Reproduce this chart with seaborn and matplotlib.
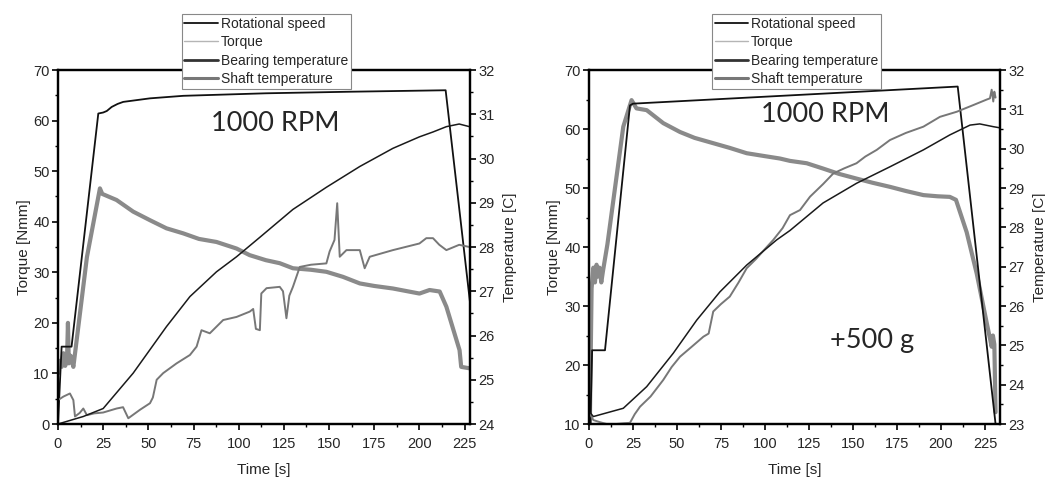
import pandas as pd
import matplotlib.pyplot as plt
import seaborn as sns
from matplotlib.lines import Line2D
from matplotlib.ticker import MultipleLocator

# ---- left panel: 1000 RPM ----
a_speed_t = [0, 2, 7.5, 22.3, 25, 27, 29.7, 33, 36.1, 50.9, 69.3, 115, 160, 214.5, 228]
a_speed = [0, 15.3, 15.3, 61.4, 61.6, 61.9, 62.7, 63.3, 63.7, 64.4, 64.9, 65.4, 65.7, 66.0, 24.0]

a_torque_t = [0, 1, 2, 3, 4, 5, 5.5, 6, 7, 8.5, 16, 23.2, 24.5, 32.4, 41.6, 50.9, 60, 69.3, 78,
              87.7, 98.8, 106, 115, 122.7, 130, 140, 148.5, 157.7, 167, 175, 185.3, 200, 205.6,
              211.2, 214.9, 222.2, 223.1, 228]
a_torque = [10, 12.5, 11.3, 14, 11.5, 13, 20, 12, 13.5, 11.3, 33, 46.6, 45.5, 44.3, 42.0, 40.3, 38.7,
            37.7, 36.6, 36.0, 34.7, 33.4, 32.4, 31.8, 30.8, 30.5, 30.1, 29.1, 27.8, 27.3, 26.8, 25.8,
            26.5, 26.2, 23.2, 14.6, 11.3, 11.0]

a_bear_t = [0, 14, 25, 41.6, 60, 73, 87.7, 98.8, 111.7, 130, 148.5, 167, 185.3, 200, 207.5, 214.9, 222, 227.7]
a_bear = [24.0, 24.17, 24.35, 25.15, 26.2, 26.88, 27.44, 27.78, 28.22, 28.85, 29.35, 29.82, 30.23, 30.49,
          30.6, 30.72, 30.78, 30.72]

a_shaft_t = [0, 3, 6.6, 8.5, 9.4, 12, 14, 16, 20, 25, 32.4, 36, 38.9, 45.3, 50.9, 52.5, 54.6, 58.2, 65.6,
             73, 76.7, 79.4, 84, 87.7, 91.4, 98.8, 106.1, 108, 109.5, 111.7, 112.5, 115.4, 122.7, 124.5,
             126.4, 128, 130, 133.8, 140, 148.5, 150.3, 153, 154.5, 155.9, 159.6, 167, 169.7, 172.5,
             185.3, 200, 203.8, 207.5, 211, 214.9, 222, 227.7]
a_shaft = [24.54, 24.62, 24.69, 24.54, 24.17, 24.25, 24.35, 24.2, 24.24, 24.26, 24.35, 24.38, 24.13, 24.32,
           24.47, 24.6, 25.0, 25.15, 25.37, 25.56, 25.75, 26.12, 26.05, 26.2, 26.35, 26.42, 26.54, 26.6,
           26.15, 26.12, 26.95, 27.07, 27.1, 27.0, 26.39, 26.9, 27.1, 27.55, 27.6, 27.63, 27.9, 28.16,
           28.99, 27.78, 27.93, 27.93, 27.52, 27.78, 27.93, 28.08, 28.2, 28.2, 28.05, 27.93, 28.05, 28.0]

# ---- right panel: 1000 RPM, +500 g ----
b_speed_t = [0.8, 1.8, 9.1, 23.3, 25, 209.5, 231]
b_speed = [10, 22.5, 22.5, 64.0, 64.3, 67.2, 10]

b_torque_t = [0.5, 1.5, 2.5, 3.4, 4.3, 5, 6, 7, 8, 10.5, 19.5, 24.2, 27, 32.8, 42.2, 51.7, 60, 70.6, 80,
              89.6, 100, 108.5, 114.2, 123.7, 133, 142, 152, 161, 171, 180, 190, 198, 205, 208.5,
              214.6, 220.3, 226, 228.8, 229.5, 230.3, 231]
b_torque = [10, 33, 36.5, 34, 37, 35, 36.5, 34, 36, 40.5, 60.4, 64.9, 63.5, 63.2, 61.0, 59.5, 58.5, 57.6,
            56.8, 55.9, 55.4, 55.0, 54.6, 54.2, 53.3, 52.4, 51.6, 50.9, 50.2, 49.5, 48.8, 48.6, 48.5,
            48.0, 42.5, 35.5, 27.1, 23.1, 25, 23.5, 12]

b_bear_t = [0.5, 2.5, 19.5, 32.8, 47.9, 61.2, 74.4, 89.6, 106.6, 114.2, 133, 152, 171, 190, 205, 216.5,
            222, 229.7, 233.5]
b_bear = [23.3, 23.19, 23.40, 23.95, 24.80, 25.64, 26.36, 27.04, 27.68, 27.92, 28.62, 29.12, 29.54, 29.97,
          30.35, 30.6, 30.63, 30.56, 30.53]

b_shaft_t = [0, 2.5, 6, 10, 15.5, 20, 23.3, 26, 29, 35, 42.2, 47, 51.7, 58, 65, 68, 70.6, 75, 80, 85,
             89.6, 95, 100, 104.7, 110, 114.2, 119.9, 125.6, 133, 138.8, 145, 152, 157, 163.5, 171,
             180, 190, 199.4, 209, 218.4, 226, 227.8, 228.8, 229.7, 230.3, 231]
b_shaft = [23.3, 23.1, 23.05, 23.0, 23.0, 23.02, 23.03, 23.25, 23.44, 23.7, 24.12, 24.45, 24.71, 24.95,
           25.22, 25.3, 25.86, 26.05, 26.24, 26.6, 26.96, 27.2, 27.45, 27.68, 27.98, 28.31, 28.44, 28.78,
           29.1, 29.37, 29.5, 29.63, 29.8, 29.97, 30.22, 30.4, 30.56, 30.81, 30.94, 31.11, 31.25, 31.28,
           31.5, 31.2, 31.45, 31.3]

labels = ['Rotational speed', 'Torque', 'Bearing temperature', 'Shaft temperature']

sns.set_style('ticks')
plt.rcParams['font.family'] = ['Liberation Sans', 'DejaVu Sans']

fig = plt.figure(figsize=(10.45, 4.79), dpi=100)


def panel(rect, sp_t, sp, tq_t, tq, br_t, br, sh_t, sh, xmax, tq_lim, t_lim, notes):
    ax = fig.add_axes(rect)
    ax2 = ax.twinx()
    kw = dict(estimator=None, sort=False, legend=False)
    sns.lineplot(x=tq_t, y=tq, ax=ax, color='#8a8a8a', lw=3.0, **kw)
    sns.lineplot(x=sp_t, y=sp, ax=ax, color='#111111', lw=1.3, **kw)
    sns.lineplot(x=sh_t, y=sh, ax=ax2, color='#777777', lw=1.4, **kw)
    sns.lineplot(x=br_t, y=br, ax=ax2, color='#1a1a1a', lw=1.1, **kw)

    ax.set_xlim(0, xmax)
    ax.set_ylim(*tq_lim)
    ax2.set_ylim(*t_lim)
    ax.xaxis.set_major_locator(MultipleLocator(25))
    ax.xaxis.set_minor_locator(MultipleLocator(12.5))
    ax.yaxis.set_major_locator(MultipleLocator(10))
    ax.yaxis.set_minor_locator(MultipleLocator(5))
    ax2.yaxis.set_major_locator(MultipleLocator(1))
    ax2.yaxis.set_minor_locator(MultipleLocator(0.5))

    for a in (ax, ax2):
        for s in a.spines.values():
            s.set_linewidth(1.6)
            s.set_color('black')
        a.tick_params(which='major', direction='out', length=4, width=1.2, labelsize=10.5, pad=2, color='black')
        a.tick_params(which='minor', direction='out', length=2.5, width=1.0, color='black')
    ax.tick_params(axis='x', which='major', pad=5)

    ax.set_xlabel('Time [s]', fontsize=11, labelpad=9)
    ax.set_ylabel('Torque [Nmm]', fontsize=11, labelpad=2)
    ax2.set_ylabel('Temperature [C]', fontsize=11, labelpad=6)

    for x, y, s in notes:
        ax.text(x, y, s, ha='center', va='center', fontsize=19.5, family=['Lato', 'DejaVu Sans'])

    handles = [Line2D([], [], color='#111111', lw=1.3),
               Line2D([], [], color='#b5b5b5', lw=1.0),
               Line2D([], [], color='#333333', lw=2.0),
               Line2D([], [], color='#777777', lw=2.2)]
    leg = ax2.legend(handles, labels, loc='upper center', bbox_to_anchor=(0.505, 1.158),
                     fontsize=10, frameon=True, fancybox=False, framealpha=1, edgecolor='#888888',
                     borderpad=0.2, labelspacing=0.32, handlelength=2.4, handletextpad=0.2,
                     borderaxespad=0)
    leg.get_frame().set_linewidth(0.8)
    return ax, ax2


panel([0.0555, 0.1148, 0.3943, 0.739], a_speed_t, a_speed, a_torque_t, a_torque,
      a_bear_t, a_bear, a_shaft_t, a_shaft, 228, (0, 70), (24, 32),
      [(120, 59.5, '1000 RPM')])
panel([0.5636, 0.1148, 0.3933, 0.739], b_speed_t, b_speed, b_torque_t, b_torque,
      b_bear_t, b_bear, b_shaft_t, b_shaft, 233.5, (10, 70), (23, 32),
      [(134, 62.4, '1000 RPM'), (161, 24.2, '+500 g')])

fig.savefig('out.png', dpi=100)
